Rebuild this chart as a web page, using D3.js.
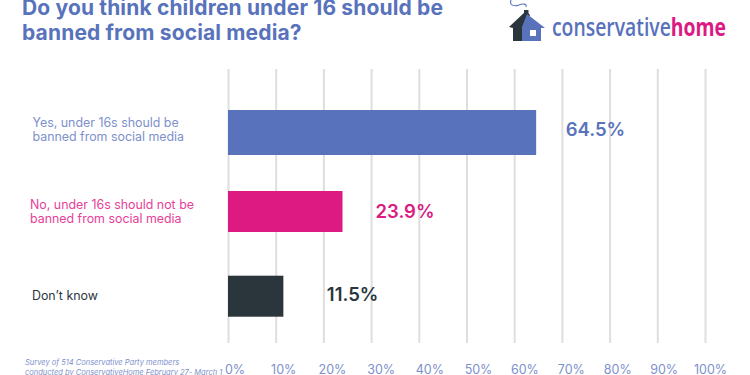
<!DOCTYPE html>
<html>
<head>
<meta charset="utf-8">
<script src="https://cdn.jsdelivr.net/npm/d3@7"></script>
<style>
  html, body { margin: 0; padding: 0; background: #fff; overflow: hidden; }
  text { font-family: Inter, sans-serif; }
</style>
</head>
<body>
<div id="chart"></div>
<script>
const categories = ["yes", "no", "dontKnow"];
const values = [64.5, 23.9, 11.5];
const valueLabels = ["64.5%", "23.9%", "11.5%"];
const categoryLines = [
  ["Yes, under 16s should be", "banned from social media"],
  ["No, under 16s should not be", "banned from social media"],
  ["Don’t know"]
];
const xTicks = [0, 10, 20, 30, 40, 50, 60, 70, 80, 90, 100];
const titleLines = ["Do you think children under 16 should be", "banned from social media?"];
const noteLines = ["Survey of 514 Conservative Party members", "conducted by ConservativeHome February 27- March 1"];

const blue = "#5872BC";
const pink = "#DC1A82";
const dark = "#2B353C";
const paleBlue = "#7D90CC";
const barColors = [blue, pink, dark];
const categoryColors = [paleBlue, "#E63E98", dark];

const svg = d3.select("#chart").append("svg")
  .attr("width", 750)
  .attr("height", 375);

const x = d3.scaleLinear().domain([0, 100]).range([228, 705]);
// tick labels sit a little to the right of their grid lines, and drift
const tickLabelX = d3.scaleLinear().domain([0, 50, 100]).range([234.5, 478, 710]);
const y = d3.scaleBand().domain(categories).range([106.3, 316.7]).paddingInner(0.516).paddingOuter(0);

// the first bar is a bit taller than the other two
const barTop = d => y(d) + (d === "yes" ? 3.7 : 0);
const barHeight = d => y.bandwidth() + (d === "yes" ? 4 : 0);

// Title
svg.append("g").selectAll("text")
  .data(titleLines)
  .enter().append("text")
  .attr("x", 22)
  .attr("y", (d, i) => 15 + i * 25)
  .attr("fill", blue)
  .style("font-size", "21px")
  .style("letter-spacing", "0.15px")
  .style("font-weight", 700)
  .text(d => d);

// Grid lines and axis labels
const axis = svg.append("g")
  .attr("transform", "translate(0,343)")
  .call(d3.axisBottom(x).tickValues(xTicks).tickSize(-274).tickFormat(d => d + "%"));
axis.select(".domain").remove();
axis.selectAll(".tick line")
  .attr("stroke", "#DEDEDE")
  .attr("stroke-width", 2);
axis.selectAll(".tick text")
  .attr("x", d => tickLabelX(d) - x(d))
  .attr("y", 31)
  .attr("dy", 0)
  .attr("fill", paleBlue)
  .style("font-size", "12.5px")
  .style("font-family", "Inter, sans-serif");

// Bars
svg.selectAll(".bar")
  .data(categories)
  .enter().append("rect")
  .attr("class", "bar")
  .attr("x", x(0))
  .attr("y", barTop)
  .attr("width", (d, i) => x(values[i]) - x(0) + 0.5)
  .attr("height", barHeight)
  .attr("fill", (d, i) => barColors[i]);

// Value labels
const labelGap = [30, 33.5, 44];
const labelDrop = [9.5, 6.2, 4.8];
svg.selectAll(".value")
  .data(categories)
  .enter().append("text")
  .attr("class", "value")
  .attr("x", (d, i) => x(values[i]) + labelGap[i])
  .attr("y", (d, i) => y(d) + y.bandwidth() / 2 + labelDrop[i])
  .attr("fill", (d, i) => barColors[i])
  .style("font-size", "18.5px")
  .style("font-weight", 600)
  .text((d, i) => valueLabels[i]);

// Category labels
const labelLeft = [32.5, 30, 32];
const firstBaseline = [20.4, 17.7, 24.3];
categories.forEach((c, i) => {
  svg.append("g").selectAll("text")
    .data(categoryLines[i])
    .enter().append("text")
    .attr("x", labelLeft[i])
    .attr("y", (d, j) => y(c) + firstBaseline[i] + j * 14.5)
    .attr("fill", categoryColors[i])
    .style("font-size", "12.4px")
    .text(d => d);
});

// Survey note
svg.append("g").selectAll("text")
  .data(noteLines)
  .enter().append("text")
  .attr("x", 25)
  .attr("y", (d, i) => 365 + i * 9.5)
  .attr("fill", paleBlue)
  .style("font-size", "7.5px")
  .style("font-style", "italic")
  .text(d => d);

// Logo
const logo = svg.append("g");
logo.append("path")
  .attr("d", "M509 27 L526 11 L530 15 L522 41 L513 41 L513 28 Z")
  .attr("fill", dark);
logo.append("rect").attr("x", 524).attr("y", 10).attr("width", 4.5).attr("height", 6).attr("fill", dark);
logo.append("path")
  .attr("d", "M527 14 L545 28 L541 28 L541 41 L522 41 L522 27 Z")
  .attr("fill", blue);
logo.append("rect").attr("x", 530).attr("y", 30).attr("width", 6).attr("height", 6).attr("fill", "#fff");
logo.append("path")
  .attr("d", "M511 0 C509 5 514 7 519 5 C523 3 527 4 526 7")
  .attr("fill", "none")
  .attr("stroke", blue)
  .attr("stroke-width", 1.1);
const word = logo.append("text")
  .attr("x", 552)
  .attr("y", 36)
  .attr("textLength", 174)
  .attr("lengthAdjust", "spacingAndGlyphs")
  .style("font-family", "'Open Sans', sans-serif")
  .style("font-size", "25px")
  .style("font-weight", 600);
word.append("tspan").attr("fill", blue).text("conservative");
word.append("tspan").attr("fill", pink).style("font-weight", 700).text("home");
</script>
</body>
</html>
